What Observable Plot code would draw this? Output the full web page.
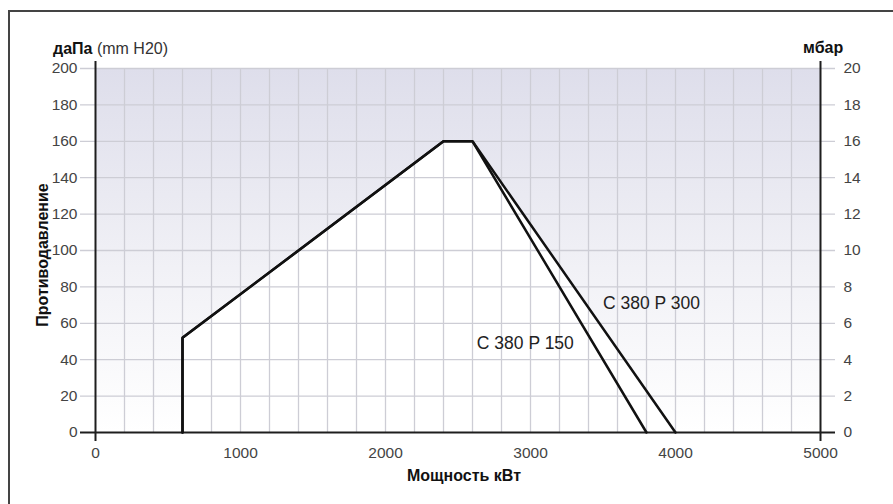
<!DOCTYPE html>
<html>
<head>
<meta charset="utf-8">
<script src="https://cdn.jsdelivr.net/npm/d3@7"></script>
<script src="https://cdn.jsdelivr.net/npm/@observablehq/plot@0.6"></script>
<style>
  html, body { margin: 0; padding: 0; background: #fff; overflow: hidden; }
  #wrap { position: relative; width: 893px; height: 504px; font-family: "Liberation Sans", Arial, sans-serif; }
  #frame { position: absolute; left: 8px; top: 10px; width: 1000px; height: 1000px; border-left: 2px solid #444; border-top: 2px solid #444; }
  .lbl { position: absolute; color: #111; font-size: 16px; white-space: nowrap; }
  .b { font-weight: bold; }
  .n { font-weight: normal; color: #333; }
  #chart svg { position: absolute; left: 0; top: 0; }
</style>
</head>
<body>
<div id="wrap">
  <div id="frame"></div>
  <div id="chart"></div>
  <div class="lbl b" style="left:53px; top:40px;">даПа <span class="n">(mm H20)</span></div>
  <div class="lbl b" style="left:803px; top:39px;">мбар</div>
  <div class="lbl b" style="left:464px; top:476px; transform: translate(-50%,-50%);">Мощность кВт</div>
  <div class="lbl b" style="left:43px; top:255px; transform: translate(-50%,-50%) rotate(-90deg);">Противодавление</div>
</div>
<script>
// Tick values
const xTicks = [0, 1000, 2000, 3000, 4000, 5000];
const xGrid = d3.range(200, 5000, 200);
const yTicks = [0, 20, 40, 60, 80, 100, 120, 140, 160, 180, 200];
const mbarLabels = [0, 2, 4, 6, 8, 10, 12, 14, 16, 18, 20];

// Series
const seriesNames = ["C 380 P 150", "C 380 P 300"];
const p150Power = [600, 600, 2400, 2600, 3800];
const p150Pressure = [0, 52, 160, 160, 0];
const p300Power = [600, 600, 2400, 2600, 4000];
const p300Pressure = [0, 52, 160, 160, 0];

// Curve label anchors (data units)
const labelPower = [2630, 3500];
const labelPressure = [49, 71];

const p150 = p150Power.map((x, i) => ({x, y: p150Pressure[i], s: seriesNames[0]}));
const p300 = p300Power.map((x, i) => ({x, y: p300Pressure[i], s: seriesNames[1]}));
const labels = seriesNames.map((s, i) => ({s, x: labelPower[i], y: labelPressure[i]}));

const gridColor = "#cdcdd5";
const axisColor = "#1e1e1e";

const chart = Plot.plot({
  width: 893,
  height: 504,
  marginLeft: 95,
  marginRight: 73,
  marginTop: 68,
  marginBottom: 72,
  style: { fontFamily: "'Liberation Sans', Arial, sans-serif", fontSize: "15.5px", background: "transparent", overflow: "visible" },
  x: { domain: [0, 5000], axis: null },
  y: { domain: [0, 200], axis: null },
  marks: [
    Plot.frame({ fill: "url(#bgGrad)", stroke: "none" }),
    Plot.areaY(p300, { x: "x", y: "y", fill: "white", curve: "linear" }),
    Plot.ruleX(xGrid, { stroke: gridColor, strokeWidth: 1.3 }),
    Plot.ruleY(yTicks.filter(d => d > 0), { stroke: gridColor, strokeWidth: 1.3, insetLeft: -15, insetRight: -15 }),
    Plot.ruleX([0, 5000], { stroke: axisColor, strokeWidth: 2, insetTop: -7, insetBottom: -9 }),
    Plot.ruleY([0], { stroke: axisColor, strokeWidth: 2, insetLeft: -15, insetRight: -15 }),
    Plot.line(p150, { x: "x", y: "y", stroke: "#111", strokeWidth: 2.5, strokeLinejoin: "miter" }),
    Plot.line(p300, { x: "x", y: "y", stroke: "#111", strokeWidth: 2.5, strokeLinejoin: "miter" }),
    Plot.text(labels, { x: "x", y: "y", text: "s", textAnchor: "start", fontSize: 17.5, fill: "#222" }),
    Plot.axisY(yTicks, { anchor: "left", tickSize: 0, tickPadding: 18, color: "#444", label: null, tickFormat: d => String(d) }),
    Plot.axisY(yTicks, { anchor: "right", tickSize: 0, tickPadding: 23, color: "#444", label: null, tickFormat: (d, i) => String(mbarLabels[i]) }),
    Plot.axisX(xTicks, { anchor: "bottom", tickSize: 0, tickPadding: 14, color: "#444", label: null, tickFormat: d => String(d) })
  ]
});

const ns = "http://www.w3.org/2000/svg";
const defs = document.createElementNS(ns, "defs");
defs.innerHTML = '<linearGradient id="bgGrad" x1="0" y1="0" x2="0" y2="1">' +
  '<stop offset="0" stop-color="#dedeeb"/>' +
  '<stop offset="0.55" stop-color="#f1f1f6"/>' +
  '<stop offset="1" stop-color="#ffffff"/></linearGradient>';
chart.insertBefore(defs, chart.firstChild);
document.getElementById("chart").appendChild(chart);
</script>
</body>
</html>
